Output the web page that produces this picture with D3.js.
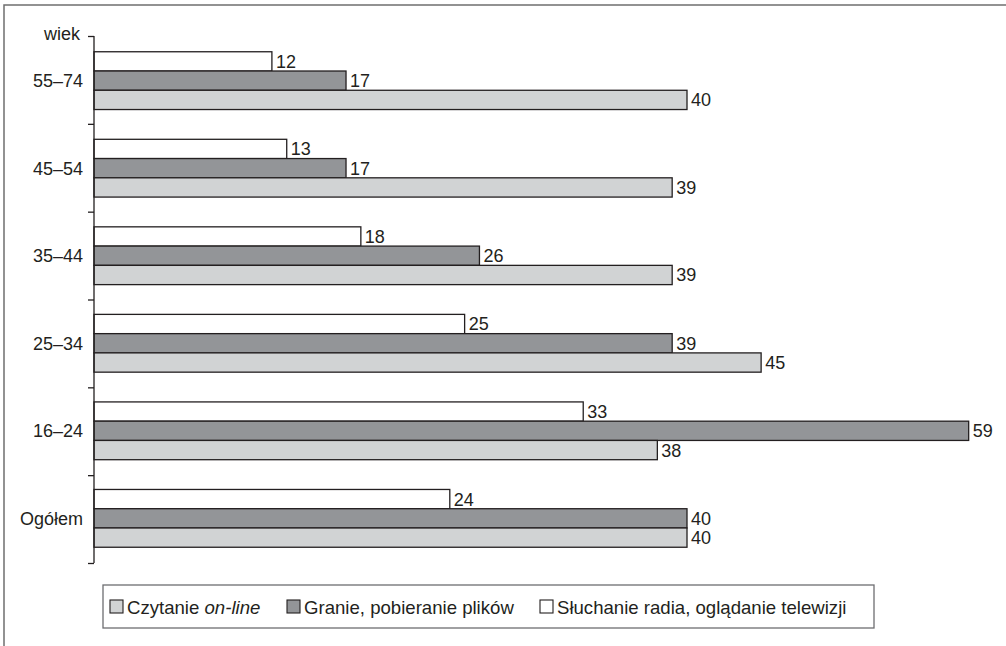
<!DOCTYPE html>
<html>
<head>
<meta charset="utf-8">
<script src="https://cdn.jsdelivr.net/npm/d3@7"></script>
<style>
  html, body { margin: 0; padding: 0; background: #fff; }
  svg { display: block; font-family: "Liberation Sans", Arial, sans-serif; }
</style>
</head>
<body>
<svg id="chart" width="1006" height="646"></svg>
<script>
// Age groups, top to bottom
const categories = ["55–74", "45–54", "35–44", "25–34", "16–24", "Ogółem"];
// Percent values per activity, in the same order as categories
const sluchanie = [12, 13, 18, 25, 33, 24]; // Słuchanie radia, oglądanie telewizji
const granie    = [17, 17, 26, 39, 59, 40]; // Granie, pobieranie plików
const czytanie  = [40, 39, 39, 45, 38, 40]; // Czytanie on-line
const seriesNames = ["Słuchanie radia, oglądanie telewizji", "Granie, pobieranie plików", "Czytanie on-line"];
const seriesValues = [sluchanie, granie, czytanie];
const seriesColors = ["#ffffff", "#939598", "#d1d3d4"];
const axisTitle = "wiek";

const svg = d3.select("#chart");
const ink = "#231f20";
const fs = 18;

// outer frame (top and left edges)
svg.append("path")
  .attr("d", "M4,646 V5 H1006")
  .attr("fill", "none").attr("stroke", "#6f6f6f").attr("stroke-width", 1.5);

const x0 = 94, yTop = 36, yBottom = 563;
const x = d3.scaleLinear().domain([0, 40]).range([x0, 687]);
const y = d3.scaleBand().domain(categories).range([yTop, yBottom]).paddingInner(0.34).paddingOuter(0.18);
const ySub = d3.scaleBand().domain(d3.range(seriesNames.length)).range([0, y.bandwidth()]);

// bars
const g = svg.append("g");
categories.forEach((c, i) => {
  seriesValues.forEach((vals, s) => {
    const v = vals[i];
    const by = y(c) + ySub(s);
    g.append("rect")
      .attr("x", x(0)).attr("y", by)
      .attr("width", x(v) - x(0)).attr("height", ySub.bandwidth())
      .attr("fill", seriesColors[s]).attr("stroke", ink).attr("stroke-width", 1.3);
    g.append("text")
      .attr("x", x(v) + 4).attr("y", by + ySub.bandwidth() / 2)
      .attr("dy", "0.36em")
      .attr("font-size", fs).attr("fill", ink)
      .text(v);
  });
});

// vertical axis: category labels centered on the group, ticks at group boundaries
const yb = d3.scaleLinear().domain([0, categories.length]).range([yTop, yBottom]);
const axisG = svg.append("g").attr("transform", `translate(${x0},0)`)
  .call(d3.axisLeft(yb).tickValues(d3.range(categories.length + 1)).tickSize(6).tickFormat(""));
axisG.select(".domain").attr("d", `M0,${yTop}V${yBottom}`).attr("stroke", ink).attr("stroke-width", 1.3);
axisG.selectAll(".tick line").attr("stroke", ink).attr("stroke-width", 1.3);

svg.append("text").attr("x", 80).attr("y", yTop).attr("dy", "0.2em")
  .attr("text-anchor", "end").attr("font-size", fs).attr("fill", ink).text(axisTitle);

categories.forEach(c => {
  svg.append("text")
    .attr("x", 83).attr("y", y(c) + y.bandwidth() / 2).attr("dy", "0.36em")
    .attr("text-anchor", "end").attr("font-size", fs).attr("fill", ink).text(c);
});

// legend
const legend = svg.append("g");
legend.append("rect").attr("x", 103).attr("y", 585).attr("width", 771).attr("height", 43)
  .attr("fill", "#fff").attr("stroke", "#6d6e71").attr("stroke-width", 1.3);
const legendItems = [
  { s: 2, x: 110 },
  { s: 1, x: 287 },
  { s: 0, x: 540 }
];
legendItems.forEach(it => {
  legend.append("rect").attr("x", it.x).attr("y", 600).attr("width", 13).attr("height", 13)
    .attr("fill", seriesColors[it.s]).attr("stroke", ink).attr("stroke-width", 1.1);
  const t = legend.append("text").attr("x", it.x + 17).attr("y", 607).attr("dy", "0.36em")
    .attr("font-size", 18.6).attr("fill", ink);
  if (it.s === 2) {
    t.append("tspan").text("Czytanie ");
    t.append("tspan").attr("font-style", "italic").text("on-line");
  } else {
    t.text(seriesNames[it.s]);
  }
});
</script>
</body>
</html>
